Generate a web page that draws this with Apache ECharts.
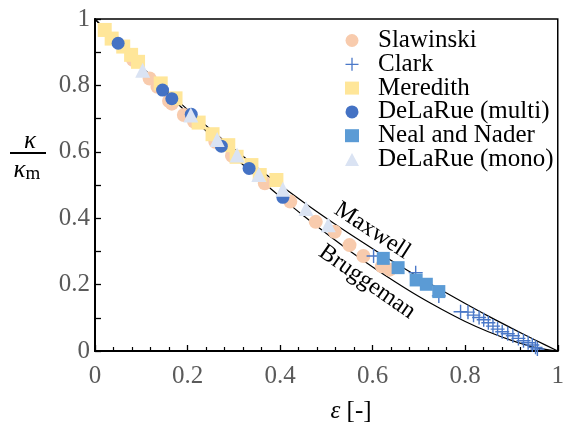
<!DOCTYPE html>
<html><head><meta charset="utf-8">
<script src="https://cdn.jsdelivr.net/npm/echarts@6/dist/echarts.min.js"></script>
<style>html,body{margin:0;padding:0;background:#fff}#c{width:567px;height:430px}</style>
</head><body><div id="c"></div>
<script>
// ---- data ----
const epsGrid   = [0,0.05,0.1,0.15,0.2,0.25,0.3,0.35,0.4,0.45,0.5,0.55,0.6,0.65,0.7,0.75,0.8,0.85,0.9,0.95,1];
const maxwell   = [1,0.927,0.857,0.791,0.727,0.667,0.609,0.553,0.5,0.449,0.4,0.353,0.308,0.264,0.222,0.182,0.143,0.105,0.069,0.034,0];
const bruggeman = [1,0.926,0.854,0.784,0.716,0.650,0.586,0.524,0.465,0.408,0.354,0.302,0.253,0.207,0.164,0.125,0.089,0.058,0.032,0.011,0];

const slawinski = [[0.082,0.877],[0.118,0.821],[0.135,0.796],[0.160,0.753],[0.166,0.745],[0.192,0.711],[0.214,0.691],[0.260,0.630],[0.296,0.588],[0.367,0.505],[0.422,0.450],[0.477,0.389],[0.518,0.359],[0.550,0.319],[0.580,0.286],[0.620,0.255],[0.637,0.245]];
const clark = [[0.602,0.286],[0.693,0.236],[0.743,0.166],[0.790,0.118],[0.806,0.117],[0.818,0.108],[0.830,0.101],[0.840,0.094],[0.850,0.085],[0.860,0.075],[0.870,0.066],[0.880,0.058],[0.892,0.052],[0.903,0.046],[0.915,0.038],[0.926,0.031],[0.936,0.025],[0.945,0.018],[0.952,0.011],[0.956,0.006]];
const meredith = [[0.021,0.967],[0.036,0.941],[0.061,0.917],[0.078,0.892],[0.093,0.871],[0.142,0.806],[0.174,0.761],[0.224,0.688],[0.254,0.653],[0.288,0.620],[0.306,0.585],[0.338,0.560],[0.356,0.530],[0.392,0.515]];
const dlrMulti = [[0.050,0.927],[0.146,0.786],[0.166,0.760],[0.208,0.713],[0.273,0.617],[0.333,0.550],[0.406,0.463]];
const neal = [[0.623,0.279],[0.655,0.251],[0.694,0.214],[0.716,0.201],[0.743,0.179]];
const dlrMono = [[0.103,0.846],[0.207,0.711],[0.264,0.637],[0.307,0.590],[0.354,0.532],[0.406,0.487],[0.456,0.429],[0.504,0.380]];
const xTicks = [0,0.2,0.4,0.6,0.8,1];
const yTicks = [0,0.2,0.4,0.6,0.8,1];
const seriesNames = ['Slawinski','Clark','Meredith','DeLaRue (multi)','Neal and Nader','DeLaRue (mono)'];

// ---- chart ----
const FONT = '"Liberation Serif", "Times New Roman", serif';
const pair = (xs, ys) => xs.map((x, i) => [x, ys[i]]);
const cross = 'path://M-0.7,-7h1.4v14h-1.4zM-7,-0.7h14v1.4h-14z';
const axisCommon = {
  type: 'value', min: 0, max: 1, interval: 0.2,
  axisLine: { show: true, onZero: false, lineStyle: { color: '#000', width: 2 } },
  axisTick: { show: true, inside: true, length: 6, lineStyle: { color: '#000', width: 1.3 } },
  splitLine: { show: false },
  axisLabel: { color: '#5a5a5a', fontFamily: FONT, fontSize: 25,
    formatter: v => String(+v.toFixed(1)) }
};
const chart = echarts.init(document.getElementById('c'), null, { renderer: 'canvas' });
chart.setOption({
  animation: false,
  backgroundColor: '#fff',
  grid: { left: 95, right: 3, top: 19, bottom: 79, show: true, borderColor: '#000', borderWidth: 1.5, backgroundColor: 'transparent' },
  xAxis: Object.assign({}, axisCommon, {
    minorTick: { show: true, splitNumber: 5, length: 4, lineStyle: { color: '#000', width: 1.2 } },
    axisLabel: Object.assign({}, axisCommon.axisLabel, { margin: 13 })
  }),
  yAxis: Object.assign({}, axisCommon, {
    minorTick: { show: true, splitNumber: 2, length: 6, lineStyle: { color: '#000', width: 1.3 } },
    axisLabel: Object.assign({}, axisCommon.axisLabel, { margin: 5 })
  }),
  legend: {
    data: seriesNames, orient: 'vertical', left: 340, top: 23,
    itemWidth: 14, itemHeight: 13, itemGap: -1.2,
    textStyle: { fontFamily: FONT, fontSize: 25, color: '#000', lineHeight: 23.5, padding: [0, 0, 0, 14] },
    selectedMode: false
  },
  graphic: [
    { type: 'text', x: 30, y: 141, style: { text: 'κ', fontFamily: FONT, fontStyle: 'italic', fontSize: 25, fill: '#000', align: 'center', verticalAlign: 'middle' } },
    { type: 'line', shape: { x1: 10, y1: 153, x2: 46, y2: 153 }, style: { stroke: '#000', lineWidth: 1.8 } },
    { type: 'text', x: 27, y: 170, style: { text: '{k|κ}{m|m}', align: 'center', verticalAlign: 'middle',
        rich: { k: { fontFamily: FONT, fontStyle: 'italic', fontSize: 25, fill: '#000' }, m: { fontFamily: FONT, fontSize: 19, fill: '#000', padding: [9, 0, 0, 0] } } } },
    { type: 'text', x: 351, y: 411, style: { text: '{e|ε} [-]', align: 'center', verticalAlign: 'middle', fontFamily: FONT, fontSize: 25, fill: '#000',
        rich: { e: { fontFamily: FONT, fontStyle: 'italic', fontSize: 25, fill: '#000' } } } }
  ],
  series: [
    { name: 'Maxwell', type: 'line', z: 1, data: pair(epsGrid, maxwell), showSymbol: false, smooth: 0.3, silent: true,
      lineStyle: { color: '#000', width: 1.2 },
      markPoint: { symbol: 'circle', symbolSize: 1, itemStyle: { color: 'rgba(0,0,0,0)' }, silent: true,
        data: [{ coord: [0.599, 0.362], value: 'Maxwell' }],
        label: { show: true, formatter: 'Maxwell', position: 'inside', rotate: -33, fontFamily: FONT, fontSize: 24, color: '#000' } } },
    { name: 'Bruggeman', type: 'line', z: 1, data: pair(epsGrid, bruggeman), showSymbol: false, smooth: 0.3, silent: true,
      lineStyle: { color: '#000', width: 1.2 },
      markPoint: { symbol: 'circle', symbolSize: 1, itemStyle: { color: 'rgba(0,0,0,0)' }, silent: true,
        data: [{ coord: [0.588, 0.208], value: 'Bruggeman' }],
        label: { show: true, formatter: 'Bruggeman', position: 'inside', rotate: -35, fontFamily: FONT, fontSize: 24, color: '#000' } } },
    { name: 'Slawinski', type: 'scatter', data: slawinski, symbol: 'circle', symbolSize: 14, itemStyle: { color: '#F8CBAD', opacity: 1 } },
    { name: 'Clark', type: 'scatter', data: clark, symbol: cross, symbolSize: 14, itemStyle: { color: '#4A78C8', opacity: 1 } },
    { name: 'Meredith', type: 'scatter', data: meredith, symbol: 'rect', symbolSize: 14, itemStyle: { color: '#FFE699', opacity: 1 } },
    { name: 'DeLaRue (multi)', type: 'scatter', data: dlrMulti, symbol: 'circle', symbolSize: 13, itemStyle: { color: '#4472C4', opacity: 1 } },
    { name: 'Neal and Nader', type: 'scatter', data: neal, symbol: 'rect', symbolSize: 13, itemStyle: { color: '#5B9BD5', opacity: 1 } },
    { name: 'DeLaRue (mono)', type: 'scatter', data: dlrMono, symbol: 'triangle', symbolSize: 15, itemStyle: { color: '#DAE3F3', opacity: 1 } }
  ]
});
</script>
</body></html>
